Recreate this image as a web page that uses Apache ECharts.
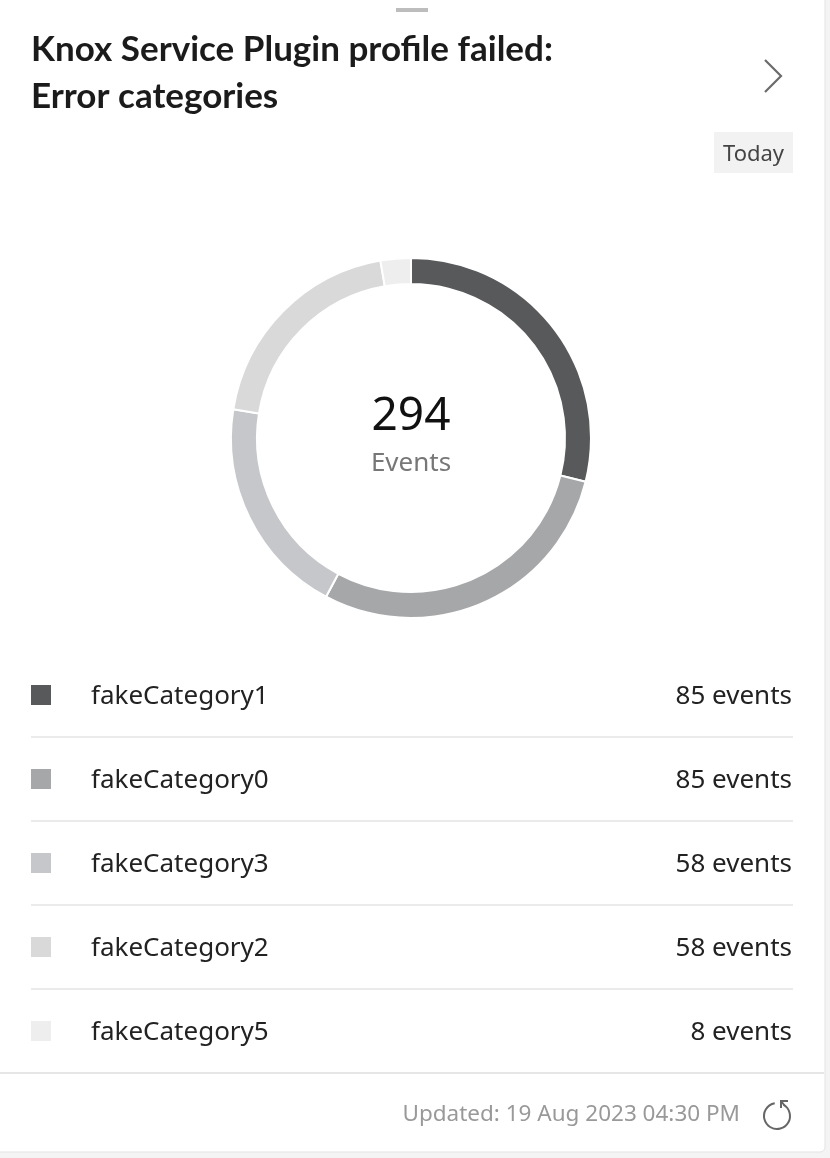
<!DOCTYPE html>
<html>
<head>
<meta charset="utf-8">
<script src="https://cdn.jsdelivr.net/npm/echarts@6/dist/echarts.min.js"></script>
<style>
  html, body { margin: 0; padding: 0; background: #f4f4f4; }
  #chart { width: 830px; height: 1158px; }
</style>
</head>
<body>
<div id="chart"></div>
<script>
const titleLines = ['Knox Service Plugin profile failed:', 'Error categories'];
const categories = ['fakeCategory1', 'fakeCategory0', 'fakeCategory3', 'fakeCategory2', 'fakeCategory5'];
const values = [85, 85, 58, 58, 8];
const colors = ['#58595b', '#a6a7a9', '#c6c7ca', '#d9d9d9', '#eeeeee'];
const periodLabel = 'Today';
const centerLabel = 'Events';
const updatedText = 'Updated: 19 Aug 2023 04:30 PM';

const total = values.reduce((a, b) => a + b, 0);
const FONT = '"Noto Sans", "Open Sans", sans-serif';

const chart = echarts.init(document.getElementById('chart'), null, { renderer: 'canvas' });

const graphics = [];
// card background
graphics.push({ type: 'rect', z: -10, shape: { x: -6, y: -6, width: 831, height: 1158, r: 5 },
  style: { fill: '#ffffff', stroke: '#e3e3e3', lineWidth: 1 } });
// top handle
graphics.push({ type: 'rect', shape: { x: 396, y: 8, width: 32, height: 4 }, style: { fill: '#bdbdbd' } });
// title
titleLines.forEach((t, i) => graphics.push({ type: 'text', x: 31, y: 32 + i * 47,
  style: { text: t, font: '700 35px Lato, "Noto Sans", sans-serif', fill: '#1b1b1b', verticalAlign: 'top' } }));
// chevron
graphics.push({ type: 'polyline', shape: { points: [[765, 60], [781, 76], [765, 92]] },
  style: { stroke: '#6b6b6b', lineWidth: 2.2, fill: null } });
// Today badge
graphics.push({ type: 'rect', shape: { x: 714, y: 132, width: 79, height: 41 }, style: { fill: '#f2f2f2' } });
graphics.push({ type: 'text', x: 753.5, y: 155, style: { text: periodLabel, font: '22px ' + FONT, fill: '#444', align: 'center', verticalAlign: 'middle' } });
// center labels
graphics.push({ type: 'text', x: 411, y: 417, style: { text: String(total), font: '46px ' + FONT, fill: '#111', align: 'center', verticalAlign: 'middle' } });
graphics.push({ type: 'text', x: 411, y: 464, style: { text: centerLabel, font: '26px ' + FONT, fill: '#777', align: 'center', verticalAlign: 'middle' } });
// legend rows
categories.forEach((c, i) => {
  const cy = 695 + i * 84;
  graphics.push({ type: 'rect', shape: { x: 31, y: cy - 10, width: 20, height: 20 }, style: { fill: colors[i] } });
  graphics.push({ type: 'text', x: 91, y: cy + 2, style: { text: c, font: '26px ' + FONT, fill: '#222', verticalAlign: 'middle' } });
  graphics.push({ type: 'text', x: 792, y: cy + 2, style: { text: values[i] + ' events', font: '26px ' + FONT, fill: '#222', align: 'right', verticalAlign: 'middle' } });
  if (i < categories.length - 1) {
    graphics.push({ type: 'rect', shape: { x: 31, y: cy + 41, width: 762, height: 2 }, style: { fill: '#ebebeb' } });
  }
});
// footer divider
graphics.push({ type: 'rect', shape: { x: 0, y: 1072, width: 824, height: 2 }, style: { fill: '#e6e6e6' } });
// updated text
graphics.push({ type: 'text', x: 740, y: 1115, style: { text: updatedText, font: '22.5px ' + FONT, fill: '#999', align: 'right', verticalAlign: 'middle' } });
// refresh icon
graphics.push({ type: 'arc', shape: { cx: 777, cy: 1116, r: 13, startAngle: -Math.PI / 3, endAngle: Math.PI * 260 / 180, clockwise: true },
  style: { stroke: '#666', lineWidth: 2, fill: null } });
graphics.push({ type: 'polyline', shape: { points: [[788, 1101], [781, 1101], [781, 1108]] },
  style: { stroke: '#666', lineWidth: 2, fill: null } });
graphics.push({ type: 'line', shape: { x1: 781, y1: 1101, x2: 785, y2: 1106 },
  style: { stroke: '#666', lineWidth: 2 } });

chart.setOption({
  animation: false,
  backgroundColor: 'transparent',
  graphic: graphics,
  series: [{
    type: 'pie',
    silent: true,
    center: [411, 438],
    radius: [154, 180],
    startAngle: 90,
    clockwise: true,
    label: { show: false },
    labelLine: { show: false },
    itemStyle: { borderColor: '#ffffff', borderWidth: 2 },
    data: categories.map((c, i) => ({ name: c, value: values[i], itemStyle: { color: colors[i] } }))
  }]
});
</script>
</body>
</html>
